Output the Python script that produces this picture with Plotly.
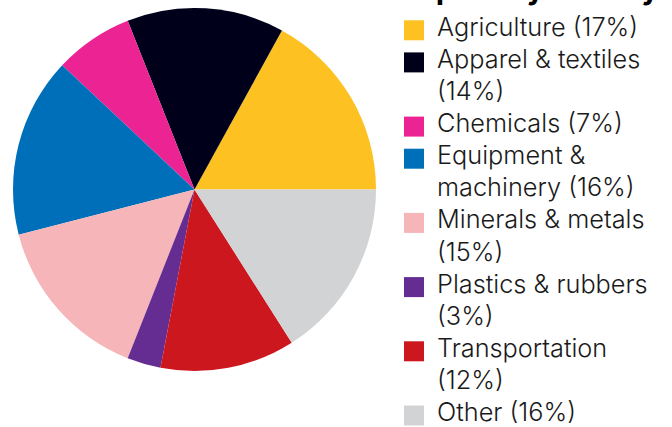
import textwrap
import plotly.graph_objects as go

title_text = "Exports by industry"
categories = ["Agriculture", "Apparel & textiles", "Chemicals", "Equipment & machinery",
              "Minerals & metals", "Plastics & rubbers", "Transportation", "Other"]
shares = [17, 14, 7, 16, 15, 3, 12, 16]
colors = ["#FDC122", "#00001A", "#EC2393", "#006FB9",
          "#F5B5B9", "#652D91", "#CC171E", "#D1D3D4"]

W, H = 672, 427
FONT = "Inter"
FS = 25.3
LINE = 32.1

fig = go.Figure()
fig.add_trace(go.Pie(
    labels=categories, values=shares, sort=False, direction="counterclockwise",
    rotation=90 - 360 * shares[0] / sum(shares),
    marker=dict(colors=colors, line=dict(width=0)),
    textinfo="none", hoverinfo="label+percent", showlegend=False,
    domain=dict(x=[13 / W, 376 / W], y=[56 / H, 419 / H]),
))

shapes = []
annotations = []
line_idx = 0
first_baseline = 38.3
for cat, val, col in zip(categories, shares, colors):
    lines = textwrap.wrap(f"{cat} ({val}%)", width=18)
    base = first_baseline + line_idx * LINE
    shapes.append(dict(type="rect", xref="paper", yref="paper",
                       x0=404 / W, x1=424 / W,
                       y0=1 - (base + 2) / H, y1=1 - (base - 18) / H,
                       fillcolor=col, line=dict(width=0)))
    for j, ln in enumerate(lines):
        b = base + j * LINE
        annotations.append(dict(text=ln, xref="paper", yref="paper",
                                x=435 / W, y=1 - (b + 0.22 * FS) / H,
                                xanchor="left", yanchor="bottom", showarrow=False,
                                font=dict(family=FONT, size=FS, color="#1a1a1a", weight=300)))
    line_idx += len(lines)

annotations.append(dict(text=title_text, xref="paper", yref="paper",
                        x=403 / W, y=1 - (2 + 0.22 * 26) / H, xanchor="left", yanchor="bottom",
                        showarrow=False,
                        font=dict(family=FONT, size=26, color="#000000", weight=800)))

fig.update_layout(
    width=W, height=H, margin=dict(l=0, r=0, t=0, b=0),
    paper_bgcolor="white", plot_bgcolor="white",
    shapes=shapes, annotations=annotations,
)
fig.write_html("out.html", config={"displayModeBar": False},
               post_script="document.body.style.margin='0px';")
